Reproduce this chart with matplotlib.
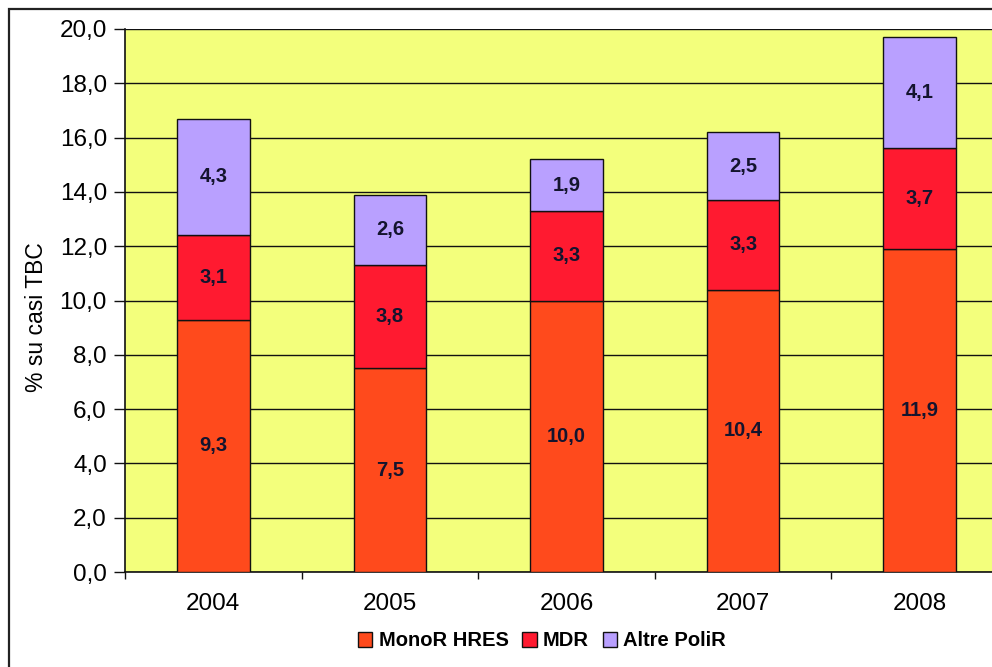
import matplotlib
matplotlib.use("Agg")
import matplotlib.pyplot as plt
from matplotlib.patches import Rectangle
from matplotlib.ticker import FixedLocator, FuncFormatter
import numpy as np

plt.rcParams.update({"font.family": ["Liberation Sans", "DejaVu Sans"]})

years = ["2004", "2005", "2006", "2007", "2008"]
monor = [9.3, 7.5, 10.0, 10.4, 11.9]
mdr = [3.1, 3.8, 3.3, 3.3, 3.7]
altre = [4.3, 2.6, 1.9, 2.5, 4.1]
series = [("MonoR HRES", monor, "#FF4A1C"),
          ("MDR", mdr, "#FF1A30"),
          ("Altre PoliR", altre, "#B9A0FF")]

W, H = 992, 667
fig = plt.figure(figsize=(W / 100, H / 100), dpi=100)
fig.patch.set_facecolor("white")

# outer chart frame (right and bottom edges fall outside the picture)
fig.patches.append(Rectangle((9 / W, -0.2), 1.3, (H - 9) / H + 0.2, transform=fig.transFigure,
                             fill=False, edgecolor="#222222", lw=1.6, clip_on=False))

ax = fig.add_axes([125 / W, (H - 572) / H, 883 / W, 543 / H])
ax.set_facecolor("#F3FF7C")

x = np.arange(len(years))
bottom = np.zeros(len(years))
for name, vals, col in series:
    vals = np.array(vals)
    ax.bar(x, vals, 0.41, bottom=bottom, color=col, edgecolor="#111111", lw=1.0,
           label=name, zorder=3)
    for xi, b, v in zip(x, bottom, vals):
        ax.text(xi, b + v / 2, f"{v:.1f}".replace(".", ","), ha="center", va="center",
                fontsize=14.5, fontweight="bold", color="#14142e", zorder=4)
    bottom += vals

ax.set_xlim(-0.5, len(years) - 0.5)
ax.set_ylim(0, 20)
ax.yaxis.set_major_locator(FixedLocator(np.arange(0, 20.1, 2)))
ax.yaxis.set_major_formatter(FuncFormatter(lambda v, p: f"{v:.1f}".replace(".", ",")))
ax.grid(axis="y", color="#111111", lw=1.0, zorder=1)
ax.set_xticks(x)
ax.set_xticklabels(years)
ax.set_xticks(np.arange(-0.5, len(years)), minor=True)
ax.tick_params(axis="x", which="major", length=0, pad=15, labelsize=17.5)
ax.tick_params(axis="x", which="minor", length=5, width=1.0, color="#111111")
ax.tick_params(axis="y", length=8, width=1.0, color="#111111", labelsize=17.5, pad=5)
for s in ("top", "right"):
    ax.spines[s].set_visible(False)
for s in ("left", "bottom"):
    ax.spines[s].set_color("#111111")
    ax.spines[s].set_linewidth(1.2)

ax.set_ylabel("% su casi TBC", fontsize=16.5)
ax.yaxis.set_label_coords(-0.087, 0.47)

leg = fig.legend(loc="center", bbox_to_anchor=(542 / W, (H - 641) / H), ncol=3, frameon=False,
                 handlelength=0.7, handleheight=0.7, handletextpad=0.3, columnspacing=0.7,
                 prop={"weight": "bold", "size": 14.5})

fig.savefig("out.png", dpi=100, facecolor="white")
